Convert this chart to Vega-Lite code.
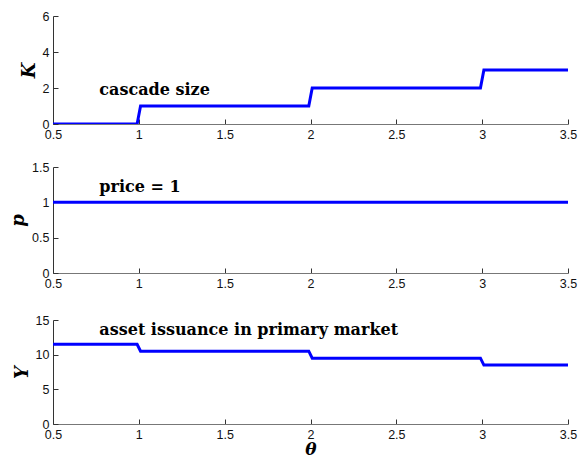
{
  "$schema": "https://vega.github.io/schema/vega-lite/v6.json",
  "background": "white",
  "padding": {"left": 9, "top": 10, "right": 4, "bottom": 0},
  "datasets": {
    "steps": [
      {"theta": 0.5, "K": 0, "p": 1, "Y": 11.5},
      {"theta": 0.99, "K": 0, "p": 1, "Y": 11.5},
      {"theta": 1.01, "K": 1, "p": 1, "Y": 10.5},
      {"theta": 1.99, "K": 1, "p": 1, "Y": 10.5},
      {"theta": 2.01, "K": 2, "p": 1, "Y": 9.5},
      {"theta": 2.99, "K": 2, "p": 1, "Y": 9.5},
      {"theta": 3.01, "K": 3, "p": 1, "Y": 8.5},
      {"theta": 3.5, "K": 3, "p": 1, "Y": 8.5}
    ],
    "noteK": [{"theta": 0.77, "K": 1.9, "label": "cascade size"}],
    "noteP": [{"theta": 0.77, "p": 1.22, "label": "price = 1"}],
    "noteY": [{"theta": 0.77, "Y": 13.6, "label": "asset issuance in primary market"}]
  },
  "spacing": 24,
  "vconcat": [
    {
      "spacing": 20,
      "vconcat": [
        {
          "width": 515,
          "height": 108,
          "encoding": {
            "x": {"field": "theta", "type": "quantitative", "scale": {"domain": [0.5, 3.5], "nice": false, "zero": false}, "axis": {"title": null, "values": [0.5, 1, 1.5, 2, 2.5, 3, 3.5], "format": "~g"}},
            "y": {"field": "K", "type": "quantitative", "scale": {"domain": [0, 6], "nice": false}, "axis": {"title": "K", "values": [0, 2, 4, 6], "format": "~g"}}
          },
          "layer": [
            {"data": {"name": "steps"}, "mark": {"type": "line", "color": "#0000ff", "strokeWidth": 3, "clip": true}},
            {"data": {"name": "noteK"}, "mark": {"type": "text", "align": "left", "baseline": "middle", "font": "DejaVu Serif", "fontWeight": "bold", "fontSize": 16}, "encoding": {"text": {"field": "label"}}}
          ]
        },
        {
          "width": 515,
          "height": 106,
          "encoding": {
            "x": {"field": "theta", "type": "quantitative", "scale": {"domain": [0.5, 3.5], "nice": false, "zero": false}, "axis": {"title": null, "values": [0.5, 1, 1.5, 2, 2.5, 3, 3.5], "format": "~g"}},
            "y": {"field": "p", "type": "quantitative", "scale": {"domain": [0, 1.5], "nice": false}, "axis": {"title": "p", "values": [0, 0.5, 1, 1.5], "format": "~g"}}
          },
          "layer": [
            {"data": {"name": "steps"}, "mark": {"type": "line", "color": "#0000ff", "strokeWidth": 3, "clip": true}},
            {"data": {"name": "noteP"}, "mark": {"type": "text", "align": "left", "baseline": "middle", "font": "DejaVu Serif", "fontWeight": "bold", "fontSize": 16}, "encoding": {"text": {"field": "label"}}}
          ]
        }
      ]
    },
    {
      "width": 515,
      "height": 104,
      "encoding": {
        "x": {"field": "theta", "type": "quantitative", "scale": {"domain": [0.5, 3.5], "nice": false, "zero": false}, "axis": {"title": "θ", "titlePadding": 1, "titleFontSize": 17, "values": [0.5, 1, 1.5, 2, 2.5, 3, 3.5], "format": "~g"}},
        "y": {"field": "Y", "type": "quantitative", "scale": {"domain": [0, 15], "nice": false}, "axis": {"title": "Y", "values": [0, 5, 10, 15], "format": "~g"}}
      },
      "layer": [
        {"data": {"name": "steps"}, "mark": {"type": "line", "color": "#0000ff", "strokeWidth": 3, "clip": true}},
        {"data": {"name": "noteY"}, "mark": {"type": "text", "align": "left", "baseline": "middle", "font": "DejaVu Serif", "fontWeight": "bold", "fontSize": 16}, "encoding": {"text": {"field": "label"}}}
      ]
    }
  ],
  "config": {
    "view": {"stroke": null},
    "axis": {
      "grid": false,
      "domainColor": "#333333",
      "tickColor": "#333333",
      "tickSize": -5,
      "labelPadding": 7,
      "labelOverlap": false,
      "labelFont": "Liberation Sans",
      "labelFontSize": 12.5,
      "labelColor": "#111111",
      "titleFont": "DejaVu Serif",
      "titleFontWeight": "bold",
      "titleFontStyle": "italic",
      "titleFontSize": 18,
      "titleColor": "#000000"
    },
    "axisX": {"domainColor": "#777777", "labelFlush": false, "labelPadding": 9},
    "axisY": {"titlePadding": 4, "labelPadding": 9, "labelFlush": false}
  }
}
